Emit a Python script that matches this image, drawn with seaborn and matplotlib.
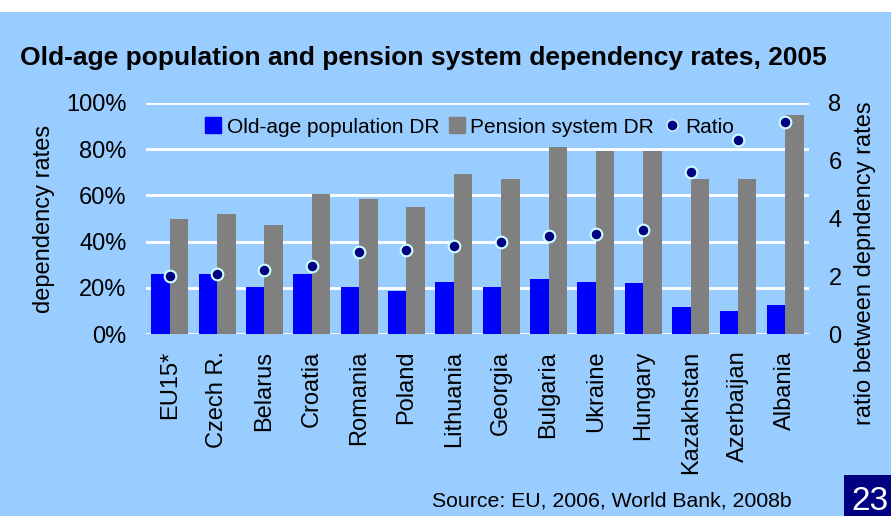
import numpy as np
import pandas as pd
import seaborn as sns
import matplotlib.pyplot as plt
from matplotlib.patches import Rectangle
from matplotlib.lines import Line2D
from matplotlib.ticker import PercentFormatter

# values
countries = ['EU15*', 'Czech R.', 'Belarus', 'Croatia', 'Romania', 'Poland', 'Lithuania',
             'Georgia', 'Bulgaria', 'Ukraine', 'Hungary', 'Kazakhstan', 'Azerbaijan', 'Albania']
old_age_dr = [26, 26, 20.5, 26, 20.5, 18.7, 22.6, 20.5, 24, 22.6, 22.2, 11.8, 10.1, 12.7]
pension_dr = [50, 52, 47, 60.8, 58.6, 55.1, 69.4, 67.2, 81.1, 79.4, 79.4, 67.2, 67.2, 95]
ratio = [2.0, 2.08, 2.22, 2.34, 2.83, 2.9, 3.05, 3.17, 3.38, 3.45, 3.59, 5.61, 6.72, 7.34]
series_names = ['Old-age population DR', 'Pension system DR']

bg = '#99CCFF'
navy = '#000080'

df = pd.DataFrame({
    'country': countries * 2,
    'value': old_age_dr + pension_dr,
    'series': [series_names[0]] * len(countries) + [series_names[1]] * len(countries),
})
ratio_df = pd.DataFrame({'pos': np.arange(len(countries)), 'ratio': ratio})

sns.set_style('white')
plt.rcParams['font.family'] = ['Liberation Sans', 'DejaVu Sans']
plt.rcParams['text.color'] = 'black'
plt.rcParams['axes.labelcolor'] = 'black'
plt.rcParams['xtick.color'] = 'black'
plt.rcParams['ytick.color'] = 'black'

fig = plt.figure(figsize=(8.91, 5.16), dpi=100, facecolor=bg)
ax = fig.add_axes([0.1639, 0.3527, 0.7441, 0.4477])
ax.set_facecolor(bg)

# white strip on top of the slide
fig.add_artist(Rectangle((0, 0.977), 1, 0.023, transform=fig.transFigure,
                         facecolor='white', edgecolor='none'))

sns.barplot(data=df, x='country', y='value', hue='series', ax=ax,
            palette=['#0000FF', '#808080'], width=0.78, gap=0,
            saturation=1, legend=False, linewidth=0)
ax.set_ylim(0, 100)
ax.set_xlim(-0.5, len(countries) - 0.5)
ax.yaxis.set_major_locator(plt.MultipleLocator(20))
ax.yaxis.set_major_formatter(PercentFormatter(decimals=0))
ax.grid(axis='y', color='white', linewidth=2)
ax.set_axisbelow(True)
for s in ax.spines.values():
    s.set_visible(False)
ax.tick_params(axis='both', length=0, labelsize=17)
ax.tick_params(axis='y', pad=14)
ax.tick_params(axis='x', pad=12)
plt.setp(ax.get_xticklabels(), rotation=90)
ax.set_xlabel('')
ax.set_ylabel('dependency rates', fontsize=17, labelpad=8)

ax2 = ax.twinx()
sns.scatterplot(data=ratio_df, x='pos', y='ratio', ax=ax2, color=navy,
                edgecolor='#CCFFFF', linewidth=1.5, s=70, zorder=5)
ax2.set_ylim(0, 8)
ax2.yaxis.set_major_locator(plt.MultipleLocator(2))
for s in ax2.spines.values():
    s.set_visible(False)
ax2.tick_params(axis='y', length=0, labelsize=17, pad=14)
ax2.set_ylabel('')
ax2.set_xlabel('')
fig.text(0.971, 0.49, 'ratio between depndency rates', rotation=90,
         ha='center', va='center', fontsize=17)

handles = [
    Line2D([], [], marker='s', linestyle='none', markersize=11, color='#0000FF'),
    Line2D([], [], marker='s', linestyle='none', markersize=11, color='#808080'),
    Line2D([], [], marker='o', linestyle='none', markersize=8, color=navy,
           markeredgecolor='#CCFFFF'),
]
ax2.legend(handles, series_names + ['Ratio'], loc='center', ncol=3,
           bbox_to_anchor=(0.487, 0.896), frameon=False, fontsize=15,
           handletextpad=0.2, columnspacing=0.4, handlelength=0.9)

fig.text(0.022, 0.888, 'Old-age population and pension system dependency rates, 2005',
         fontsize=19, fontweight='bold', va='center', ha='left')
fig.text(0.485, 0.03, 'Source: EU, 2006, World Bank, 2008b', fontsize=15.3, va='center')

# slide number box
fig.add_artist(Rectangle((0.947, 0), 0.053, 0.0795, transform=fig.transFigure,
                         facecolor=navy, edgecolor='none'))
fig.text(0.956, 0.012, '23', color='white', fontsize=24, va='baseline', ha='left')

fig.savefig('out.png', dpi=100, facecolor=bg)
